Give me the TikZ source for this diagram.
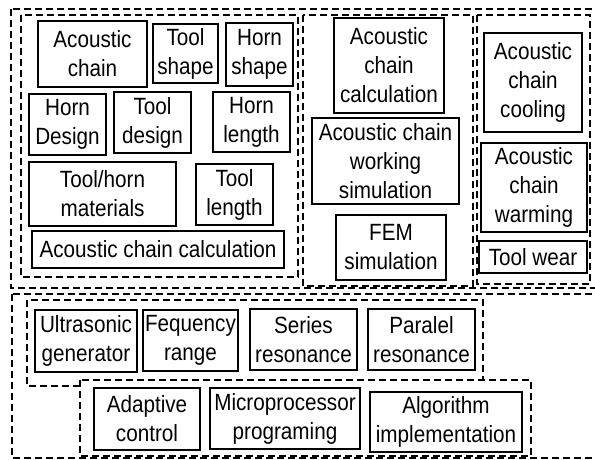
\documentclass[tikz,border=0pt]{standalone}
\usepackage{fontspec}
\setmainfont{Liberation Sans}[FakeStretch=0.88]
\begin{document}
\begin{tikzpicture}[x=1pt,y=-1pt,
  box/.style={draw, line width=1.7pt, align=center, inner sep=0pt,
    font=\fontsize{23.5}{29}\selectfont},
  grp/.style={draw, line width=1.5pt, dash pattern=on 7pt off 4pt}]
\useasboundingbox (0,0) rectangle (595,460);
% dashed groups
\draw[grp] (11,9) rectangle (600,288);
\draw[grp] (21,15) rectangle (298,277);
\draw[grp] (303,15) rectangle (473,286);
\draw[grp] (477,15) rectangle (590,284);
\draw[grp] (12,294) rectangle (600,458);
\draw[grp] (80,386) -- (27,386) -- (27,300) -- (483,300) -- (483,380);
\draw[grp] (80,380) rectangle (531,456);
% left group
\node[box, minimum width=109pt, minimum height=66pt] (ac) at (92.5,54) {Acoustic\\chain};
\node[box, minimum width=65pt, minimum height=59pt] (tshape) at (185.5,53.5) {Tool\\shape};
\node[box, minimum width=67pt, minimum height=63pt] (hshape) at (259.5,54.5) {Horn\\shape};
\node[box, minimum width=77pt, minimum height=61pt] (hdesign) at (67.5,124.5) {Horn\\Design};
\node[box, minimum width=77pt, minimum height=61pt] (tdesign) at (152.5,122.5) {Tool\\design};
\node[box, minimum width=77pt, minimum height=60pt] (hlength) at (251.5,122) {Horn\\length};
\node[box, minimum width=147pt, minimum height=64pt] (thmat) at (102.5,194) {Tool/horn\\materials};
\node[box, minimum width=77pt, minimum height=61pt] (tlength) at (234.5,194.5) {Tool\\length};
\node[box, minimum width=252pt, minimum height=37pt] (accalcA) at (158,249.5) {Acoustic chain calculation};
% middle group
\node[box, minimum width=110pt, minimum height=95pt] (accalcB) at (389,65.5) {Acoustic\\chain\\calculation};
\node[box, minimum width=147pt, minimum height=86pt] (acsim) at (385.5,161) {Acoustic chain\\working\\simulation};
\node[box, minimum width=110pt, minimum height=65pt] (fem) at (391,247.5) {FEM\\simulation};
% right group
\node[box, minimum width=98pt, minimum height=99pt] (cool) at (533,82.5) {Acoustic\\chain\\cooling};
\node[box, minimum width=106pt, minimum height=89pt] (warm) at (534,187.5) {Acoustic\\chain\\warming};
\node[box, minimum width=108pt, minimum height=32pt] (wear) at (533,257) {Tool wear};
% bottom
\node[box, minimum width=102pt, minimum height=62pt] (ug) at (86,341) {Ultrasonic\\generator};
\node[box, minimum width=95pt, minimum height=61pt] (fr) at (190.5,340.5) {Fequency\\range};
\node[box, minimum width=107pt, minimum height=61pt] (sr) at (303.5,339.5) {Series\\resonance};
\node[box, minimum width=107pt, minimum height=61pt] (pr) at (421.5,339.5) {Paralel\\resonance};
\node[box, minimum width=106pt, minimum height=62pt] (adc) at (147,419) {Adaptive\\control};
\node[box, minimum width=150pt, minimum height=61pt] (mp) at (285,418.5) {Microprocessor\\programing};
\node[box, minimum width=152pt, minimum height=60pt] (alg) at (446,422) {Algorithm\\implementation};
\end{tikzpicture}
\end{document}
